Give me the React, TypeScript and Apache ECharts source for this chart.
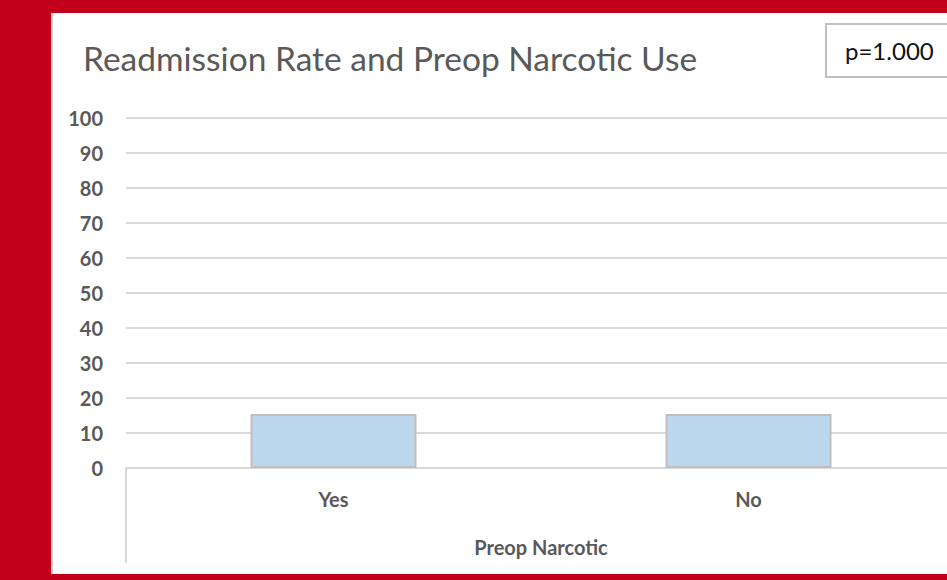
import React, { useEffect, useRef } from "react";
import * as echarts from "echarts";

const categories = ["Yes", "No"];
const readmissionRate = [15.4, 15.4];
const yTicks = { min: 0, max: 100, interval: 10 };
const titleText = "Readmission Rate and Preop Narcotic Use";
const pValueText = "p=1.000";
const xAxisName = "Preop Narcotic";

const FONT = "Lato, 'Open Sans', sans-serif";
const LABEL_GREY = "#595959";
const LINE_GREY = "#d9d9d9";

export default function App() {
  const ref = useRef<HTMLDivElement>(null);

  useEffect(() => {
    if (!ref.current) return;
    const chart = echarts.init(ref.current, undefined, { renderer: "svg" });
    chart.setOption({
      animation: false,
      backgroundColor: "transparent",
      textStyle: { fontFamily: FONT },
      title: [
        {
          text: titleText,
          left: 83,
          top: 41,
          padding: 0,
          textStyle: {
            fontFamily: FONT,
            fontSize: 33.5,
            fontWeight: "normal",
            color: LABEL_GREY,
          },
        },
        {
          text: pValueText,
          left: 826,
          top: 24,
          padding: [14, 60, 14, 19],
          borderColor: "#bfbfbf",
          borderWidth: 2,
          backgroundColor: "#ffffff",
          textStyle: {
            fontFamily: FONT,
            fontSize: 24,
            fontWeight: "normal",
            color: "#111111",
            lineHeight: 25,
          },
        },
      ],
      grid: { left: 126, right: 4, top: 118, bottom: 112, containLabel: false },
      xAxis: {
        type: "category",
        data: categories,
        name: xAxisName,
        nameLocation: "middle",
        nameGap: 69,
        nameTextStyle: {
          fontFamily: FONT,
          fontSize: 20,
          fontWeight: "bold",
          color: LABEL_GREY,
          verticalAlign: "top",
        },
        axisLine: { show: true, lineStyle: { color: LINE_GREY, width: 2 } },
        axisTick: {
          show: true,
          interval: (i: number) => i === 0,
          length: 95,
          lineStyle: { color: LINE_GREY, width: 2 },
        },
        axisLabel: {
          margin: 21,
          fontFamily: FONT,
          fontSize: 20,
          fontWeight: "bold",
          color: LABEL_GREY,
        },
      },
      yAxis: {
        type: "value",
        min: yTicks.min,
        max: yTicks.max,
        interval: yTicks.interval,
        axisLine: { show: false },
        axisTick: { show: false },
        axisLabel: {
          margin: 23,
          fontFamily: FONT,
          fontSize: 20,
          fontWeight: "bold",
          color: LABEL_GREY,
        },
        splitLine: { lineStyle: { color: LINE_GREY, width: 2 } },
      },
      series: [
        {
          type: "bar",
          data: readmissionRate,
          barWidth: "40%",
          itemStyle: {
            color: "#bdd7ee",
            borderColor: "#bfbfbf",
            borderWidth: 2,
          },
        },
      ],
    });
    return () => chart.dispose();
  }, []);

  return (
    <div
      style={{
        position: "fixed",
        left: 0,
        top: 0,
        width: 947,
        height: 580,
        background: "#c3001b",
        overflow: "hidden",
      }}
    >
      <div
        style={{
          position: "absolute",
          left: 51,
          top: 13,
          width: 896,
          height: 561,
          background: "#ffffff",
          borderLeft: "2px solid #cfcfcf",
          boxSizing: "border-box",
        }}
      />
      <div
        ref={ref}
        style={{ position: "absolute", left: 0, top: 0, width: 960, height: 580 }}
      />
    </div>
  );
}
